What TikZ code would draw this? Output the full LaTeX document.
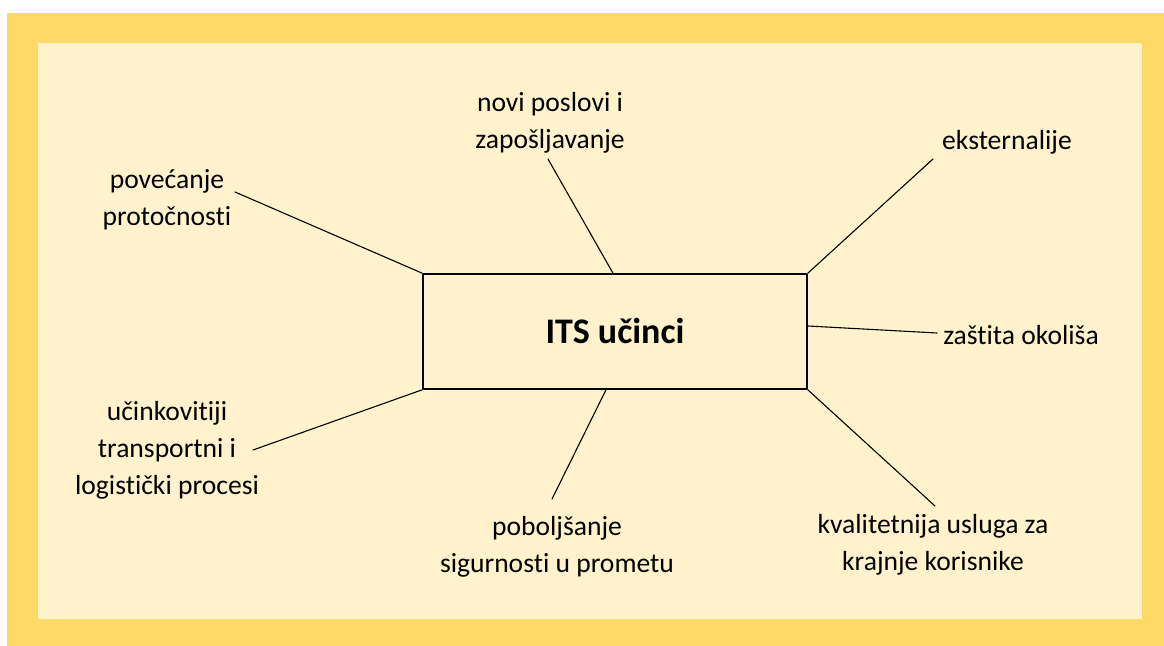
\documentclass[tikz,border=0pt]{standalone}
\usepackage{fontspec}
\setmainfont{Carlito}[Ligatures={NoCommon}]
\definecolor{frame}{HTML}{FFD966}
\definecolor{paper}{HTML}{FFF2CC}
\newcommand{\lblfont}{\fontsize{13.8}{18.5}\selectfont}
\begin{document}
\begin{tikzpicture}[line cap=round,line join=round,x=0.5pt,y=-0.5pt,
	lbl/.style={align=center,inner sep=0pt,font=\lblfont},
	link/.style={line width=0.55pt}]
	\useasboundingbox (0,0) rectangle (1164,646);
	\fill [frame] (7,13) rectangle (1164,646);
	\fill [paper] (38,43) rectangle (1142,619);
	% middle box
	\node [draw,line width=0.8pt,minimum width=192pt,minimum height=57.5pt,inner sep=0pt,
		font=\fontsize{18}{22}\selectfont\bfseries] (its) at (615,331.5) {ITS učinci};
	% labels
	\node [lbl] (pov) at (167,200) {povećanje\\protočnosti};
	\node [lbl] (novi) at (550,122.5) {novi poslovi i\\zapošljavanje};
	\node [lbl] (eks) at (1007,142) {eksternalije};
	\node [lbl] (zas) at (1021,335) {zaštita okoliša};
	\node [lbl] (uci) at (167,450) {učinkovitiji\\transportni i\\logistički procesi};
	\node [lbl] (pob) at (557,546.5) {poboljšanje\\sigurnosti u prometu};
	\node [lbl] (kva) at (933,545) {kvalitetnija usluga za\\krajnje korisnike};
	% line ends next to the labels
	\coordinate (povEnd) at (235,192);
	\coordinate (noviEnd) at (548,159);
	\coordinate (eksEnd) at (933,159);
	\coordinate (zasEnd) at (937,333);
	\coordinate (uciEnd) at (253,450);
	\coordinate (pobEnd) at (552,499);
	\coordinate (kvaEnd) at (935,506);
	\draw [link] (its.north west) -- (povEnd);
	\draw [link] ([xshift=-1pt]its.north) -- (noviEnd);
	\draw [link] (its.north east) -- (eksEnd);
	\draw [link] ([yshift=2.75pt]its.east) -- (zasEnd);
	\draw [link] (its.south west) -- (uciEnd);
	\draw [link] ([xshift=-4.5pt]its.south) -- (pobEnd);
	\draw [link] (its.south east) -- (kvaEnd);
\end{tikzpicture}
\end{document}
